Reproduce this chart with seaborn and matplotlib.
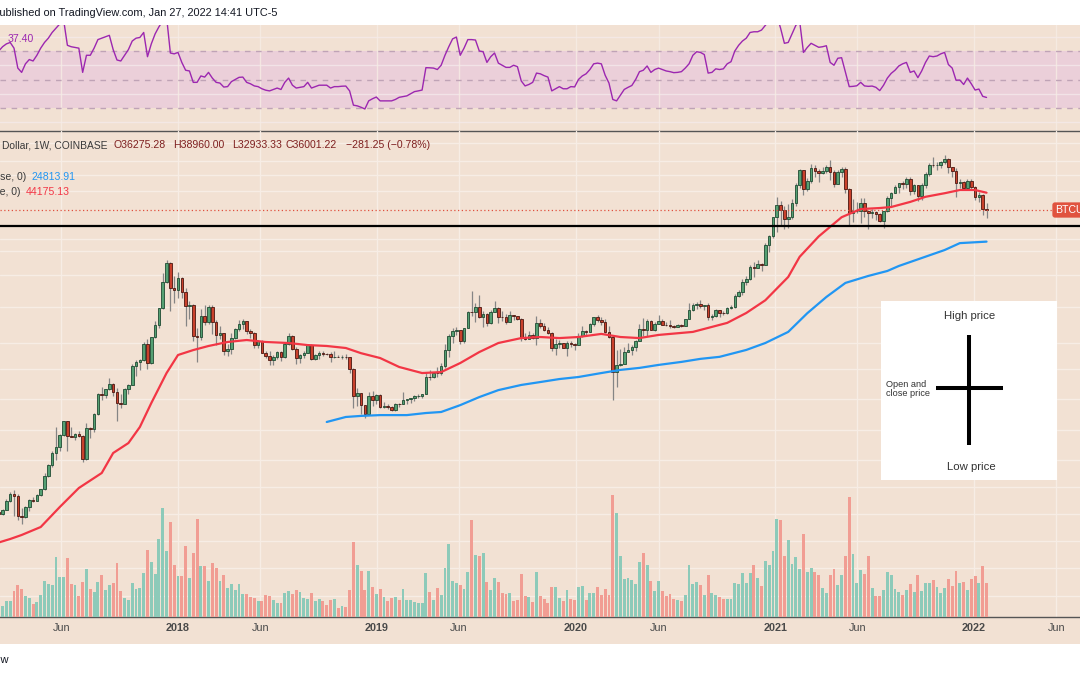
import numpy as np
import pandas as pd
import matplotlib
matplotlib.use("Agg")
import matplotlib.pyplot as plt
import matplotlib.dates as mdates
from matplotlib.ticker import NullLocator
import seaborn as sns

# ---------------- data (weekly BTCUSD, Coinbase) ----------------
start_week = "2017-02-06"
n_weeks = 260

opens = [1020,1000,1050,1160,1270,1235,975,960,1080,1180,
         1170,1250,1345,1570,1780,2050,2200,2540,2990,2520,
         2480,2560,2500,1920,2750,2730,3250,4100,4080,4370,
         4620,4200,3700,3670,4370,4600,5720,6000,6150,7400,
         5950,8060,9300,11300,15400,19200,14400,14000,16200,13700,
         11600,11700,8170,8100,10300,9600,11500,9600,8300,8500,
         6800,7000,8000,8900,9400,9700,8700,8500,7350,7700,
         6700,6450,6150,6350,6750,6350,7400,8200,7000,6300,
         6500,6700,7300,6250,6500,6700,6600,6580,6350,6400,
         6350,6400,6350,5550,4000,4150,3600,3250,4000,3850,
         4050,3550,3580,3530,3410,3680,3670,3850,3870,3920,
         4000,4020,4100,5050,5030,5280,5250,5750,6950,8200,
         8680,8740,7650,8950,10850,10780,11450,10200,10550,9500,
         10800,11400,10200,10150,9600,10400,10300,10000,8050,7900,
         8300,7950,9550,9200,8800,8500,7050,7400,7500,7100,
         7520,7390,7350,8150,8700,8600,9350,10150,9900,9650,
         8530,8050,5350,5800,5880,6780,6900,7130,7700,8900,
         8720,9680,8720,9450,9750,9340,9300,9150,9050,9250,
         9200,9950,11050,11700,11850,11650,11700,10250,10300,11100,
         10750,10700,11350,11500,13100,13750,15500,16050,18400,18200,
         19150,18800,23800,26450,33000,38200,36000,32300,33100,39250,
         48600,57500,46200,51000,59000,57350,55800,57100,59800,56200,
         49100,56600,58200,46400,34800,35700,35800,39100,35500,34700,
         35300,34250,31800,35400,41500,43800,47100,49300,48900,51800,
         45200,48300,42700,48200,55000,61500,60900,61300,63300,65500,
         59700,57250,49400,50100,46700,50800,47300,41900,43100,36275.28]

highs = [1030,1060,1200,1290,1330,1260,1070,1100,1200,1225,
         1260,1350,1620,1810,2090,2780,2560,3000,3010,2800,
         2600,2650,2540,2920,2800,3300,4160,4480,4380,4980,
         4700,4400,4100,4400,4620,5850,6180,6250,7600,7880,
         8100,9750,11400,17170,19890,19500,16500,17250,16300,14300,
         12300,11900,9000,11200,11800,11700,11700,9900,9200,8500,
         7450,8450,9000,9800,9990,9750,8900,8550,7800,7780,
         6860,6850,6550,6850,6800,7550,8500,8250,7150,6620,
         6800,7400,7420,6600,6800,6850,6680,6750,6800,6530,
         6500,6600,6400,5620,4400,4180,3620,4200,4250,4100,
         4100,3730,3650,3560,3690,3700,4200,3900,3950,4050,
         4100,4130,5350,5470,5350,5630,5900,7400,8350,8950,
         9090,8740,9000,10950,13880,12000,13150,11000,10650,11100,
         12300,11500,10950,10600,10900,10470,10350,10050,8500,8650,
         8420,10350,9950,9500,9080,8550,7850,7750,7550,7700,
         7700,7550,8450,9200,8800,9550,10200,10500,10250,9950,
         9200,8150,6950,6980,7200,7470,7300,7770,9450,10050,
         9950,9900,9600,10400,9950,9600,9800,9300,9450,9350,
         10000,12100,12050,12150,12450,11800,12100,10600,11150,11100,
         10950,11450,11700,13350,14100,15950,16500,18800,19450,19900,
         19400,24300,26900,33300,41950,40200,37900,38500,40900,49700,
         58350,57600,52650,61800,61200,58400,60100,61500,64900,57550,
         58000,59600,59600,46700,40900,39500,41300,41300,36000,36600,
         35400,34600,35400,42600,44700,48200,49350,50500,52900,52950,
         48800,48400,49500,56550,62900,67000,63700,64300,69000,66400,
         59900,59100,51950,50600,51900,52100,47600,44400,43500,38960.00]

lows = [960,985,1045,1150,975,935,890,955,1040,1150,
        1160,1235,1330,1550,1750,1900,2110,2500,2100,2470,
        2380,2480,1840,1880,2450,2620,3220,3850,3950,4300,
        4000,2980,3510,3650,4140,4580,5100,5450,6100,5500,
        5850,8000,9000,11150,15200,10900,12000,12800,12750,9200,
        10000,7700,6000,7800,9300,9400,8400,7300,7850,6500,
        6450,6620,7850,8700,8900,8350,7950,7050,7060,6650,
        6280,5780,5800,6250,6100,6300,7300,6900,5880,5900,
        6270,6650,6120,6150,6220,6430,6500,6000,6300,6350,
        6200,6250,5300,3500,3560,3270,3120,3250,3560,3650,
        3500,3470,3450,3370,3350,3550,3640,3650,3720,3800,
        3920,3940,4100,4880,4980,5050,5150,5600,6400,7500,
        8250,7450,7550,8950,10300,9650,10100,9100,9200,9400,
        10800,9500,9700,9350,9600,9900,9900,7700,7780,7850,
        7900,7300,8950,8700,8350,6800,6550,7100,7050,6430,
        7150,6900,7350,8100,8250,8550,9150,9650,9300,8450,
        8000,3850,4450,5700,5850,6750,6500,6800,7650,8120,
        8200,8800,8650,9400,9250,9200,8950,8950,9050,9050,
        9150,9950,10950,11150,11400,11100,9900,9900,10200,10150,
        10400,10550,11200,11400,12900,13200,14850,15800,16300,18100,
        17600,18800,21900,26000,27700,30300,28800,29300,32300,37900,
        46900,43000,45100,49250,53300,50400,54800,55500,51600,47000,
        48700,52900,43800,30000,31200,34800,31000,33350,28800,32700,
        32100,31100,29300,35300,37600,43800,43900,46400,46500,42800,
        43400,40000,40700,46900,53900,59500,58000,59400,62300,55600,
        53300,42000,46800,45500,45600,45700,40500,39600,34000,32933.33]

closes = [1000,1050,1160,1270,1235,975,960,1080,1180,1170,
          1250,1345,1570,1780,2050,2200,2540,2990,2520,2480,
          2560,2500,1920,2750,2730,3250,4100,4080,4370,4620,
          4200,3700,3670,4370,4600,5720,6000,6150,7400,5950,
          8060,9300,11300,15400,19200,14400,14000,16200,13700,11600,
          11700,8170,8100,10300,9600,11500,9600,8300,8500,6800,
          7000,8000,8900,9400,9700,8700,8500,7350,7700,6700,
          6450,6150,6350,6750,6350,7400,8200,7000,6300,6500,
          6700,7300,6250,6500,6700,6600,6580,6350,6400,6350,
          6400,6350,5550,4000,4150,3600,3250,4000,3850,4050,
          3550,3580,3530,3410,3680,3670,3850,3870,3920,4000,
          4020,4100,5050,5030,5280,5250,5750,6950,8200,8680,
          8740,7650,8950,10850,10780,11450,10200,10550,9500,10800,
          11400,10200,10150,9600,10400,10300,10000,8050,7900,8300,
          7950,9550,9200,8800,8500,7050,7400,7500,7100,7520,
          7390,7350,8150,8700,8600,9350,10150,9900,9650,8530,
          8050,5350,5800,5880,6780,6900,7130,7700,8900,8720,
          9680,8720,9450,9750,9340,9300,9150,9050,9250,9200,
          9950,11050,11700,11850,11650,11700,10250,10300,11100,10750,
          10700,11350,11500,13100,13750,15500,16050,18400,18200,19150,
          18800,23800,26450,33000,38200,36000,32300,33100,39250,48600,
          57500,46200,51000,59000,57350,55800,57100,59800,56200,49100,
          56600,58200,46400,34800,35700,35800,39100,35500,34700,35300,
          34250,31800,35400,41500,43800,47100,49300,48900,51800,45200,
          48300,42700,48200,55000,61500,60900,61300,63300,65500,59700,
          57250,49400,50100,46700,50800,47300,41900,43100,36282.47,36001.22]

# weekly volume (relative units)
volume = [16,11,16,16,26,32,28,21,19,13,
          15,22,36,33,32,60,40,40,59,33,
          32,21,35,48,28,25,35,42,27,32,
          34,54,26,19,17,34,28,29,44,67,
          55,43,78,109,66,95,52,41,41,71,
          39,64,98,51,51,36,54,49,36,42,
          29,33,27,33,23,23,20,19,16,16,
          22,21,17,14,14,24,26,23,27,25,
          19,18,24,16,18,16,12,17,18,9,
          11,10,27,75,52,46,27,46,30,23,
          28,20,16,19,20,17,28,17,17,15,
          14,14,44,25,17,29,22,49,73,36,
          34,32,28,45,97,62,61,64,35,27,
          39,35,24,23,24,16,17,43,21,20,
          15,45,21,18,14,30,30,19,16,27,
          18,17,30,31,17,24,24,30,22,28,
          22,122,104,61,38,39,37,33,55,64,
          52,36,26,36,26,21,23,18,17,16,
          22,52,33,35,32,22,42,24,22,20,
          18,18,18,34,33,44,34,44,52,39,
          31,56,52,66,98,97,61,77,53,60,
          48,83,45,49,45,42,29,24,42,48,
          32,42,61,120,63,34,47,43,61,29,
          21,21,27,45,42,28,25,22,27,33,
          25,42,26,34,34,37,30,24,29,38,
          31,46,34,35,27,38,41,34,51,34]

# RSI (14, close), weekly
rsi = [70,73,75,76,72,58,55,61,64,63,
       67,72,76,79,83,86,89,92,74,73,
       72.5,72,55,67,67,72,78,79,80,81,
       71,63.7,63,67,71,77,79,79.5,83,66,
       75,82,87,91,94,68.6,68,69,62,56.5,
       56,48,48,52.5,51.7,55,51,48,47.5,44.7,
       45,48.5,50,51.5,51.7,48,47,45.5,45,43.5,
       42.5,42,43,44,43,48,51,46,44,44.5,
       45,48,44,45,46,46,46,44,45,45,
       45.3,45.4,42,32,31.5,30.5,29.3,35,36.5,37.7,
       35,35,35,35,36,37.5,38,38.5,40,41.5,
       42,42.6,58.3,58.2,58,57,60,67,73,78.5,
       79.8,67,72,78,78,77.7,70,69.5,62,66,
       68.6,61.5,60,58.5,58.5,60,59,49,45.5,46.5,
       48,54.5,54,52.7,51.7,42,43.5,45,43.5,43.5,
       45,44.8,50,52.5,54,57,61,61.5,61,53,
       47.5,36,35,39,43,44.5,45.8,50,55.5,56.5,
       59.5,55,57,58,57,56,55.5,54.8,55,55.5,
       58,61,67,69.5,69,67.5,54.5,55,57.5,57,
       57.5,61,62.5,70,74,77,79,83,83.5,83.5,
       84.7,88,91,94,95,86,75.4,76,82,88,
       91,69,72.5,75.4,74,72.6,73,73.7,62,60,
       64.9,65.3,55,45,45.2,45.6,48,45.5,45.2,45.4,
       44.5,42.2,46,51,54.3,56.5,59.5,61,62,55,
       56,51.3,56,62,66.5,66,66.5,68,69,60.5,
       58,49.5,49.6,46.5,51,47,42.6,43.3,38.2,37.4]

# moving averages, read at sampled weeks (week index, value)
ma50_week = [0,3,6,11,16,21,27,30,34,37,40,44,47,51,55,60,65,70,76,81,86,91,95,
             100,105,111,116,121,126,131,137,142,147,152,158,163,168,173,182,191,
             196,201,207,210,215,221,226,231,234,239,243,248,252,256,259]
ma50_val = [715,745,781,858,1086,1359,1622,2053,2309,2790,3700,5270,6520,6910,7250,
            7600,7780,7600,7510,7330,7250,7080,6660,6290,5660,5270,5330,5930,6750,
            7510,7960,8060,7960,8060,8360,8060,7960,8260,8560,9520,10700,12430,16360,
            20750,26390,33090,36430,36880,37320,39640,42090,43900,45600,45600,44175.13]
ma200_week = [86,91,95,100,107,112,116,121,126,131,137,142,147,152,158,163,168,173,
              179,184,189,196,201,207,212,217,222,228,233,236,248,252,259]
ma200_val = [2960,3140,3180,3210,3210,3290,3330,3610,3970,4310,4580,4740,4910,5030,
             5270,5470,5600,5800,6010,6230,6380,6920,7510,8560,10670,12920,15250,
             16560,17560,18620,22470,24380,24813.91]

tick_dates = ["2017-06-01", "2018-01-01", "2018-06-01", "2019-01-01", "2019-06-01",
              "2020-01-01", "2020-06-01", "2021-01-01", "2021-06-01", "2022-01-01",
              "2022-06-01"]
tick_labels = ["Jun", "2018", "Jun", "2019", "Jun", "2020", "Jun", "2021", "Jun",
               "2022", "Jun"]
grid_prices = [380, 530, 730, 1000, 1380, 1900, 2700, 3900, 5500, 7500, 11500,
               16700, 22200, 25500, 45000, 54500, 64000, 79000]
support_level = 30000
last_close = 36001.22

# ---------------- style ----------------
sns.set_style("white")
plt.rcParams["font.family"] = ["Liberation Sans", "DejaVu Sans"]

W, H = 1080, 675
BEIGE = "#F2E1D3"
GRID = "#F7EDE5"
PINK = "#EBCFD9"
DASH = "#BFA3B6"
PURPLE = "#9C27B0"
RED_MA = "#F23645"
BLUE_MA = "#2196F3"
UP_FACE, UP_EDGE = "#55A073", "#1F4A32"
DN_FACE, DN_EDGE = "#C9412C", "#4A1710"
WICK = "#858585"
VOL_UP, VOL_DN = "#8DCAB9", "#F19D93"
TXT = "#3a3a3a"
VAL = "#7E1F1F"

fig = plt.figure(figsize=(W / 100, H / 100), dpi=100, facecolor="white")


def rect(x0, y0, x1, y1):
    return [x0 / W, 1 - y1 / H, (x1 - x0) / W, (y1 - y0) / H]


def fxy(x, y):
    return x / W, 1 - y / H


dates = pd.date_range(start_week, periods=n_weeks, freq="7D")
xd = mdates.date2num(dates)
ref = pd.Timestamp("2018-01-01")
px_per_day = (974 - 178) / 1461
x_left = mdates.date2num(ref - pd.Timedelta(days=178 / px_per_day))
x_right = mdates.date2num(ref + pd.Timedelta(days=(W - 178) / px_per_day))
tick_x = mdates.date2num(pd.to_datetime(tick_dates))

o = np.array(opens, float)
h = np.array(highs, float)
l = np.array(lows, float)
c = np.array(closes, float)
up = c >= o


def clean(ax):
    ax.set_xticks([])
    ax.yaxis.set_major_locator(NullLocator())
    ax.yaxis.set_minor_locator(NullLocator())
    for s in ax.spines.values():
        s.set_visible(False)
    ax.patch.set_alpha(0)


# background
ax_bg = fig.add_axes(rect(0, 25, W, 644), zorder=-5, label="bg")
ax_bg.set_facecolor(BEIGE)
ax_bg.set_xticks([]); ax_bg.set_yticks([])
for s in ax_bg.spines.values():
    s.set_visible(False)

# ---------------- RSI panel ----------------
ax_rsi = fig.add_axes(rect(0, 25, W, 131), zorder=1, label="rsi")
clean(ax_rsi)
ax_rsi.set_xlim(x_left, x_right)
ax_rsi.set_ylim(13.86, 88.25)
ax_rsi.axhspan(30, 70, color=PINK, lw=0, zorder=0.5)
for v in [20, 40, 60, 80]:
    ax_rsi.axhline(v, color="#F6ECEE", lw=1, alpha=0.7, zorder=0.8)
for t in tick_x:
    ax_rsi.axvline(t, color=GRID, lw=1, alpha=0.8, zorder=0.8)
for v in [70, 50, 30]:
    ax_rsi.axhline(v, color=DASH, lw=1, ls=(0, (4, 4)), zorder=1)
sns.lineplot(x=xd, y=rsi, ax=ax_rsi, color=PURPLE, linewidth=1.0,
             estimator=None, sort=False, legend=False, zorder=3)
ax_rsi.set_xlabel(""); ax_rsi.set_ylabel("")
ax_rsi.set_xticks([])
ax_rsi.spines["bottom"].set_visible(True)
ax_rsi.spines["bottom"].set_color("#555555")
ax_rsi.spines["bottom"].set_linewidth(1)

# ---------------- main panel: grid ----------------
ax_grid = fig.add_axes(rect(0, 131, W, 617), zorder=2, label="grid")
clean(ax_grid)
ax_grid.set_yscale("log")
ax_grid.yaxis.set_major_locator(NullLocator())
ax_grid.yaxis.set_minor_locator(NullLocator())
ax_grid.set_xlim(x_left, x_right)
ax_grid.set_ylim(297, 91440)
for p in grid_prices:
    ax_grid.axhline(p, color=GRID, lw=1, zorder=0)
for t in tick_x:
    ax_grid.axvline(t, color=GRID, lw=1, zorder=0)
ax_grid.spines["bottom"].set_visible(True)
ax_grid.spines["bottom"].set_color("#555555")
ax_grid.spines["bottom"].set_linewidth(1)
ax_grid.set_xticks(tick_x)
ax_grid.set_xticklabels(tick_labels)
ax_grid.tick_params(axis="x", length=0, pad=4.5, labelsize=7.8, labelcolor="#4a4a4a")
for lbl in ax_grid.get_xticklabels():
    if lbl.get_text() != "Jun":
        lbl.set_fontweight("bold")

# ---------------- volume ----------------
ax_vol = fig.add_axes(rect(0, 131, W, 617), zorder=3, label="vol")
clean(ax_vol)
ax_vol.set_xlim(x_left, x_right)
ax_vol.set_ylim(0, 486)
ax_vol.bar(xd, volume, width=5.3, color=np.where(up, VOL_UP, VOL_DN), lw=0)

# ---------------- price ----------------
ax_px = fig.add_axes(rect(0, 131, W, 617), zorder=4, label="price")
clean(ax_px)
ax_px.set_yscale("log")
ax_px.yaxis.set_major_locator(NullLocator())
ax_px.yaxis.set_minor_locator(NullLocator())
ax_px.vlines(xd, l, h, color=WICK, lw=0.9, zorder=2)
body_bottom = np.minimum(o, c)
body_height = np.abs(c - o)
ax_px.bar(xd, body_height, bottom=body_bottom, width=4.8,
          color=np.where(up, UP_FACE, DN_FACE),
          edgecolor=np.where(up, UP_EDGE, DN_EDGE), linewidth=0.6, zorder=3)
sns.lineplot(x=xd[ma200_week], y=ma200_val, ax=ax_px, color=BLUE_MA, linewidth=1.6,
             estimator=None, sort=False, legend=False, zorder=5)
sns.lineplot(x=xd[ma50_week], y=ma50_val, ax=ax_px, color=RED_MA, linewidth=1.6,
             estimator=None, sort=False, legend=False, zorder=5)
ax_px.axhline(support_level, color="black", lw=1.6, zorder=6)
ax_px.axhline(last_close, xmin=0, xmax=1052 / W, color="#E0503F", lw=0.9,
              ls=(0, (1, 2)), zorder=4)
ax_px.set_xlabel(""); ax_px.set_ylabel("")
ax_px.set_xticks([])
ax_px.set_xlim(x_left, x_right)
ax_px.set_ylim(297, 91440)

# ---------------- inset legend box ----------------
ax_in = fig.add_axes(rect(881, 301, 1057, 480), zorder=6, label="inset")
ax_in.set_facecolor("white")
ax_in.set_xlim(881, 1057)
ax_in.set_ylim(480, 301)
ax_in.set_xticks([]); ax_in.set_yticks([])
for s in ax_in.spines.values():
    s.set_visible(False)
ax_in.plot([969, 969], [335, 445], color="black", lw=2.9, solid_capstyle="butt")
ax_in.plot([936, 1003], [388, 388], color="black", lw=2.9, solid_capstyle="butt")
ax_in.text(970, 316, "High price", ha="center", va="center", fontsize=8.2, color="#333333")
ax_in.text(971, 467, "Low price", ha="center", va="center", fontsize=8.2, color="#333333")
ax_in.text(886, 389, "Open and\nclose price", ha="left", va="center", fontsize=6.6,
           color="#333333", linespacing=1.05)

# ---------------- texts ----------------
fs = 7.6
fig.text(*fxy(-7.5, 13), "Published on TradingView.com, Jan 27, 2022 14:41 UTC-5",
         fontsize=7.9, color="#131722", ha="left", va="center")
fig.text(*fxy(8, 39), "37.40", fontsize=fs, color=PURPLE, ha="left", va="center")
fig.text(*fxy(2, 145), "Dollar, 1W, COINBASE", fontsize=7.4, color=TXT, ha="left", va="center")
for x0, s in [(114, "O36275.28"), (173, "H38960.00"), (232, "L32933.33"),
              (286, "C36001.22"), (346, "\u2212281.25 (\u22120.78%)")]:
    fig.text(*fxy(x0, 145), s, fontsize=fs, color=VAL, ha="left", va="center")
fig.text(*fxy(26, 177), "MA (200, close, 0)", fontsize=fs, color=TXT, ha="right", va="center")
fig.text(*fxy(32, 177), "24813.91", fontsize=fs, color=BLUE_MA, ha="left", va="center")
fig.text(*fxy(21, 192), "MA (50, close, 0)", fontsize=fs, color=TXT, ha="right", va="center")
fig.text(*fxy(26, 192), "44175.13", fontsize=fs, color=RED_MA, ha="left", va="center")
fig.text(*fxy(1055, 210), "BTCUSD", fontsize=7.6, color="white", ha="left", va="center",
         bbox=dict(boxstyle="round,pad=0.25", fc="#E0533F", ec="none"))
fig.text(*fxy(9, 660), "TradingView", fontsize=8, color="#131722", ha="right", va="center")

fig.savefig("out.png", dpi=100, facecolor="white")
